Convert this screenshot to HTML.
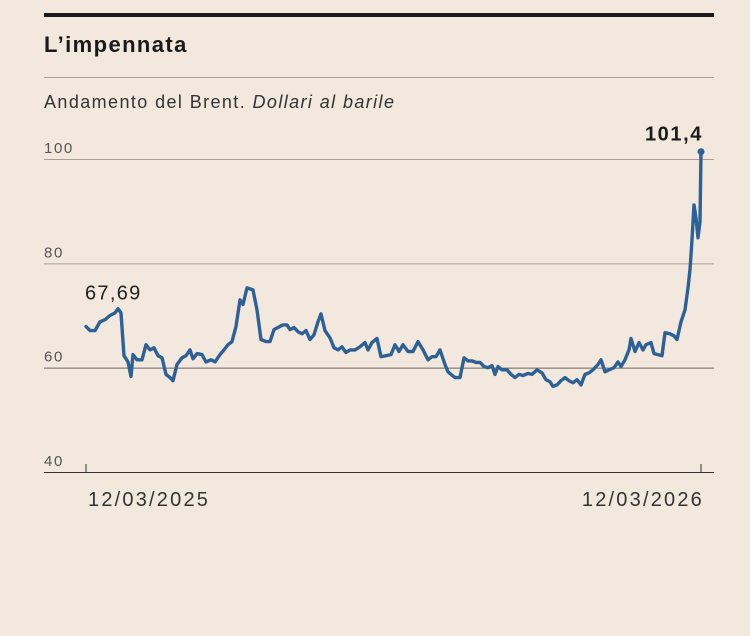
<!DOCTYPE html>
<html><head><meta charset="utf-8"><style>
body{margin:0;width:750px;height:636px;background:#f2e8dd;font-family:"Liberation Sans",sans-serif;overflow:hidden}
</style></head><body>
<svg width="750" height="636" style="position:absolute;left:0;top:0">
<rect x="44" y="13" width="670" height="4" fill="#1a1a1a"/>
<text x="44" y="52" font-size="22" font-weight="bold" letter-spacing="1.4" fill="#1a1a1a">L’impennata</text>
<line x1="44" y1="77.5" x2="714" y2="77.5" stroke="#a99f96" stroke-width="1"/>
<text x="44" y="108" font-size="18" letter-spacing="1.4" fill="#333">Andamento del Brent. <tspan font-style="italic">Dollari al barile</tspan></text>
<g id="grid"></g>
<g id="marks"></g>
</svg>
<script>
const yTicks=[40,60,80,100];
const xLabels=["12/03/2025","12/03/2026"];
const t=[0,4,9,14,19,24,29,32,35,38,42,45,47,51,56,60,64,68,72,76,80,84,87,91,96,100,104,107,111,116,120,125,129,134,138,142,146,150,154,157,161,167,171,175,180,184,188,192,197,201,204,208,212,216,220,224,228,232,235,239,244,248,252,256,260,264,269,274,279,282,286,291,295,300,305,309,313,317,322,327,332,337,342,346,350,354,359,362,365,369,374,378,382,386,390,394,398,402,406,409,412,416,421,425,429,433,437,442,446,451,456,460,464,467,471,475,479,483,487,491,495,499,503,507,512,515,519,523,528,532,535,539,543,545,549,553,557,560,565,568,572,576,579,584,588,591,595,599,602,604,606,608,610,612,614,615];
const prices=[67.9,67.1,67.1,68.8,69.2,70.0,70.5,71.3,70.5,62.3,61.1,58.3,62.5,61.5,61.5,64.4,63.4,63.8,62.3,61.9,58.7,58.1,57.5,60.6,61.9,62.3,63.4,61.7,62.7,62.5,61.1,61.5,61.1,62.5,63.4,64.4,65.0,67.9,73.0,72.1,75.3,74.9,71.1,65.4,65.0,65.0,67.3,67.7,68.2,68.2,67.3,67.7,66.9,66.5,67.1,65.4,66.3,68.8,70.3,67.1,65.7,63.8,63.4,64.0,62.9,63.4,63.4,64.0,64.8,63.4,64.8,65.6,62.1,62.3,62.5,64.4,63.1,64.4,63.1,63.1,65.0,63.4,61.5,62.1,62.1,63.4,60.6,59.2,58.7,58.1,58.1,61.9,61.3,61.3,61.0,61.0,60.2,60.0,60.4,58.7,60.2,59.6,59.6,58.7,58.1,58.7,58.5,58.9,58.7,59.6,59.0,57.7,57.3,56.4,56.7,57.5,58.1,57.5,57.1,57.7,56.7,58.7,59.0,59.6,60.6,61.5,59.2,59.6,60.0,61.1,60.2,61.5,63.4,65.6,63.1,64.8,63.4,64.4,64.8,62.7,62.5,62.3,66.7,66.5,66.1,65.4,68.8,71.1,75.3,78.8,84.5,91.2,88.7,84.9,88.0,101.4];
const NS="http://www.w3.org/2000/svg";
const X=v=>86+(v-0)*(701-86)/615;
const Y=v=>472-(v-40)*(472-159)/60;
function mk(tag,attrs,parent){const e=document.createElementNS(NS,tag);for(const k in attrs)e.setAttribute(k,attrs[k]);parent.appendChild(e);return e;}
const grid=document.getElementById('grid'),marks=document.getElementById('marks');
yTicks.forEach(v=>{
  const l=mk('line',{x1:44,x2:714,y1:Y(v)+0.5,y2:Y(v)+0.5,stroke:v===40?'#333':(v===60?'#6f665e':'#a99f96'),'stroke-width':1},grid);
  
  
  const tx=mk('text',{x:44,y:Y(v)-6,'font-size':15,'letter-spacing':1.6,fill:'#555'},grid);tx.textContent=v;
  
  
});
[[0,'start',88],[615,'end',704]].forEach((p,i)=>{
  const tk=mk('line',{x1:X(p[0]),x2:X(p[0]),y1:464,y2:472,stroke:'#333','stroke-width':1},grid);
  
  
  const tx=mk('text',{x:p[2],y:506,'font-size':20,'letter-spacing':2.2,fill:'#333','text-anchor':p[1]},grid);tx.textContent=xLabels[i];
  
  
});
const d=t.map((v,i)=>(i?'L':'M')+X(v).toFixed(1)+' '+Y(prices[i]).toFixed(1)).join(' ');
const path=mk('path',{d:d,fill:'none',stroke:'#2d6196','stroke-width':3.4,'stroke-linejoin':'round','stroke-linecap':'round'},marks);


const n=t.length-1;
const dot=mk('circle',{cx:X(t[n]),cy:Y(prices[n]),r:3.5,fill:'#2d6196'},marks);


const fl=mk('text',{x:X(t[0])-1,y:Y(prices[0])-27,'font-size':20,'letter-spacing':1.3,fill:'#222'},marks);
fl.textContent=prices[0]===67.9?'67,69':String(prices[0]).replace('.',',');


const ll=mk('text',{x:X(t[n])+2,y:Y(prices[n])-11,'font-size':20,'letter-spacing':1.6,'font-weight':'bold',fill:'#1a1a1a','text-anchor':'end'},marks);
ll.textContent=String(prices[n]).replace('.',',');


</script>
</body></html>
